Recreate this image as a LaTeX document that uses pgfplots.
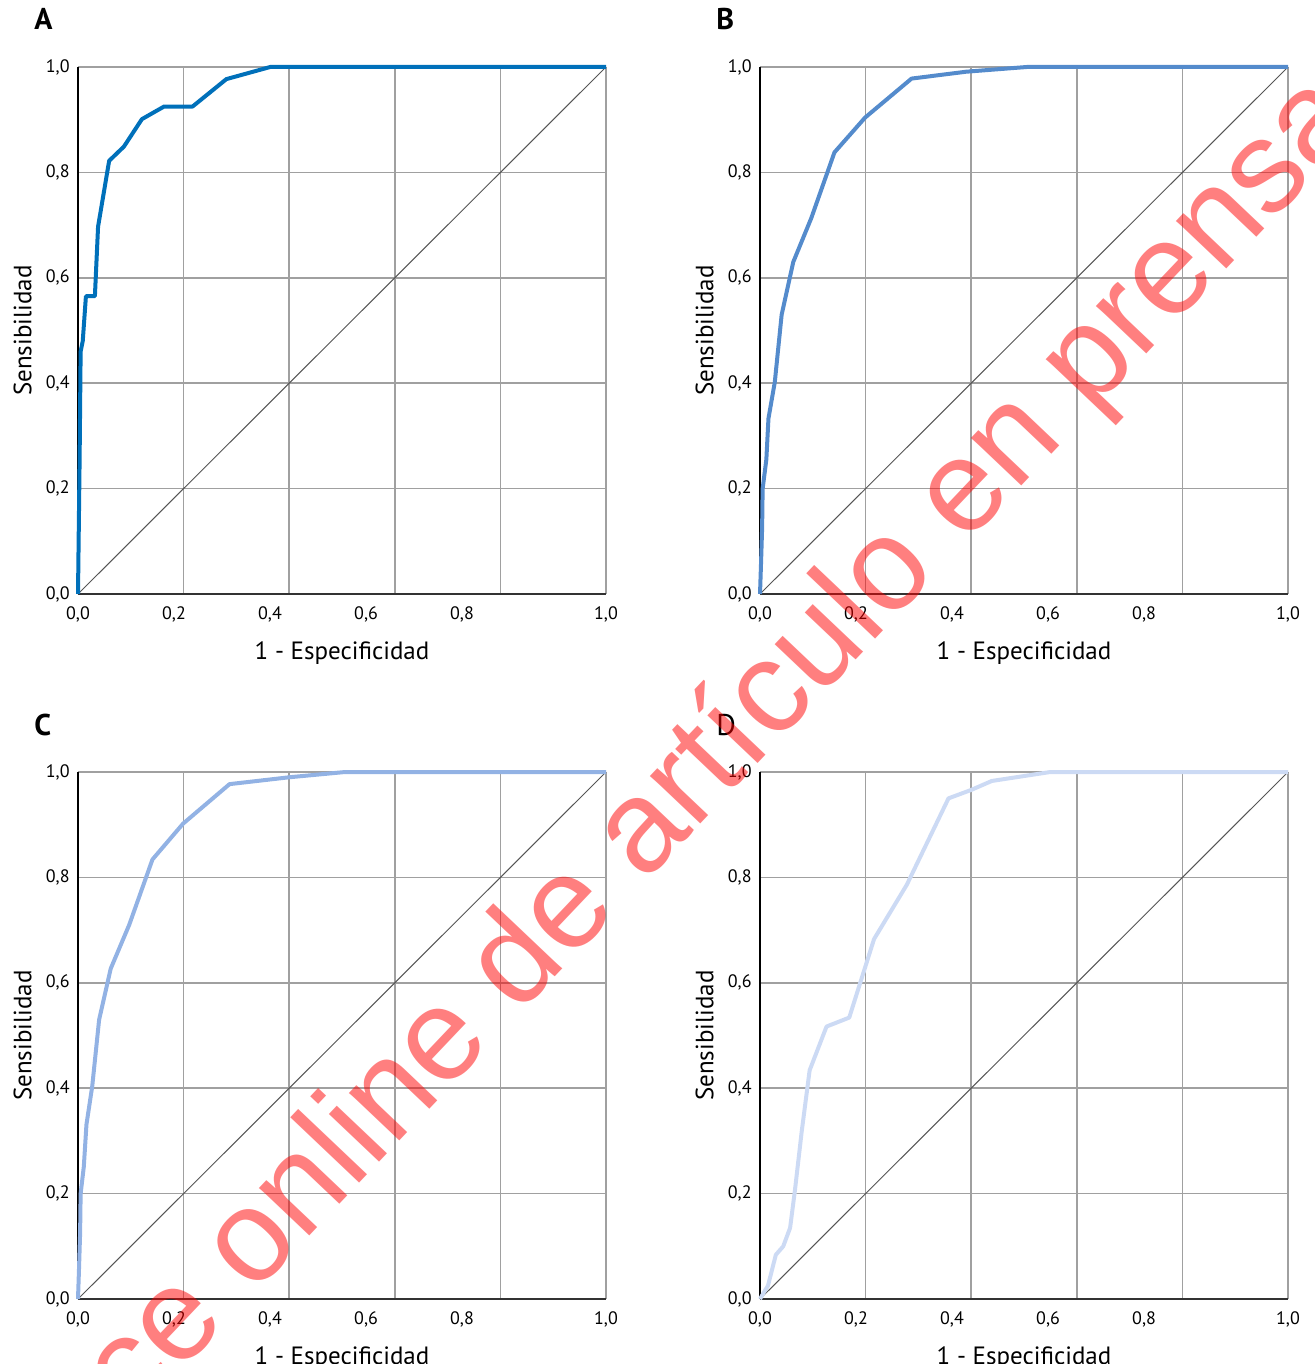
\documentclass[border=0pt]{standalone}
\usepackage{fontspec}
\setmainfont{PT Sans}
\newfontfamily\wmfont{Liberation Sans}
\usepackage{pgfplots}
\pgfplotsset{compat=1.18}

\definecolor{colA}{RGB}{0,112,186}
\definecolor{colB}{RGB}{84,139,204}
\definecolor{colC}{RGB}{146,178,228}
\definecolor{colD}{RGB}{204,218,244}
\definecolor{gridgray}{RGB}{160,160,160}
\definecolor{diaggray}{RGB}{85,85,85}
\definecolor{axisdark}{RGB}{50,50,50}

\newcommand{\labfont}{\fontsize{12.5}{14}\selectfont}
\newcommand{\letfont}{\fontsize{15}{18}\selectfont}

\pgfplotsset{
  rocaxis/.style={
    scale only axis, width=264pt, height=263.5pt,
    xmin=0, xmax=1, ymin=0, ymax=1,
    clip=false,
    axis x line*=bottom, axis y line*=left,
    x axis line style={line width=1.2pt, draw=axisdark},
    y axis line style={line width=0.8pt, draw=black},
    xtick={0.2,0.4,0.6,0.8,1}, xticklabels={,,,,},
    ytick={0,0.2,0.4,0.6,0.8,1},
    yticklabels={{\mbox{0,0}},{\mbox{0,2}},{\mbox{0,4}},{\mbox{0,6}},{\mbox{0,8}},{\mbox{1,0}}},
    extra x ticks={0,0.1818,0.3636,0.5455,0.7273,1},
    extra x tick labels={{\mbox{0,0}},{\mbox{0,2}},{\mbox{0,4}},{\mbox{0,6}},{\mbox{0,8}},{\mbox{1,0}}},
    extra x tick style={grid=none},
    grid=major, major grid style={line width=0.75pt, draw=gridgray},
    major tick length=0pt,
    tick style={draw=none},
    /pgf/number format/assume math mode=true,
    tick label style={font=\fontsize{9}{10}\selectfont},
    xticklabel style={anchor=north, inner sep=0pt, yshift=-6pt},
    yticklabel style={anchor=east, inner sep=0pt, xshift=-4pt},
  },
  diagplot/.style={draw=diaggray, line width=0.5pt},
  curve/.style={line width=2pt, line join=round},
}

\newcommand{\panellabels}[1]{%
  \node[anchor=north, inner sep=0pt, font=\labfont] at ([yshift=-23.5pt]axis description cs:0.5,0) {1 - Especificidad};
  \node[rotate=90, anchor=south, inner sep=0pt, font=\labfont] at ([xshift=-23pt]axis description cs:0,0.5) {Sensibilidad};
  #1
}

\begin{document}
\begin{tikzpicture}
\useasboundingbox (0,0) rectangle (657pt,-682pt);

% Panel A
\begin{axis}[rocaxis, at={(39pt,-33.5pt)}, anchor=north west]
\addplot[diagplot] coordinates {(0,0) (1,1)};
\addplot[curve, colA] coordinates {
(0,0) (0.003,0.25) (0.005,0.46) (0.009,0.48) (0.015,0.565) (0.032,0.565)
(0.038,0.697) (0.059,0.822) (0.087,0.849) (0.121,0.901) (0.163,0.925)
(0.217,0.925) (0.281,0.977) (0.364,1.0) (1,1)};
\panellabels{\node[anchor=base west, inner sep=0pt, font=\letfont\bfseries] at ([xshift=-22pt,yshift=18.5pt]axis description cs:0,1) {A};}
\end{axis}

% Panel B
\begin{axis}[rocaxis, at={(380pt,-33.5pt)}, anchor=north west]
\addplot[diagplot] coordinates {(0,0) (1,1)};
\addplot[curve, colB] coordinates {
(0,0) (0.002,0.06) (0.004,0.125) (0.005,0.2) (0.012,0.255) (0.016,0.333)
(0.028,0.402) (0.041,0.53) (0.063,0.63) (0.097,0.713) (0.141,0.838)
(0.199,0.904) (0.287,0.978) (0.39,0.991) (0.505,1.0) (1,1)};
\panellabels{\node[anchor=base west, inner sep=0pt, font=\letfont\bfseries] at ([xshift=-22pt,yshift=18.5pt]axis description cs:0,1) {B};}
\end{axis}

% Panel C
\begin{axis}[rocaxis, at={(39pt,-386pt)}, anchor=north west]
\addplot[diagplot] coordinates {(0,0) (1,1)};
\addplot[curve, colC] coordinates {
(0,0) (0.002,0.06) (0.004,0.125) (0.005,0.2) (0.011,0.251) (0.016,0.331)
(0.027,0.404) (0.040,0.53) (0.062,0.627) (0.097,0.71) (0.141,0.834)
(0.199,0.902) (0.287,0.977) (0.40,0.99) (0.506,1.0) (1,1)};
\panellabels{\node[anchor=base west, inner sep=0pt, font=\letfont\bfseries] at ([xshift=-22pt,yshift=18.5pt]axis description cs:0,1) {C};}
\end{axis}

% Panel D
\begin{axis}[rocaxis, at={(380pt,-386pt)}, anchor=north west]
\addplot[diagplot] coordinates {(0,0) (1,1)};
\addplot[curve, colD] coordinates {
(0,0) (0.01,0.017) (0.015,0.025) (0.03,0.084) (0.044,0.1) (0.057,0.135)
(0.066,0.205) (0.079,0.318) (0.094,0.434) (0.126,0.517) (0.169,0.534)
(0.216,0.683) (0.278,0.786) (0.357,0.95) (0.40,0.966) (0.439,0.983)
(0.55,1.0) (1,1)};
\panellabels{\node[anchor=base west, inner sep=0pt, font=\letfont] at ([xshift=-22pt,yshift=18.5pt]axis description cs:0,1) {D};}
\end{axis}

% watermark
\node[rotate=46.5, anchor=base west, inner sep=0pt, text=red, text opacity=0.5,
      font=\wmfont\fontsize{65.5}{70}\selectfont] at (-35.5pt,-818.5pt)
      {Avance online de artículo en prensa};
\end{tikzpicture}
\end{document}
